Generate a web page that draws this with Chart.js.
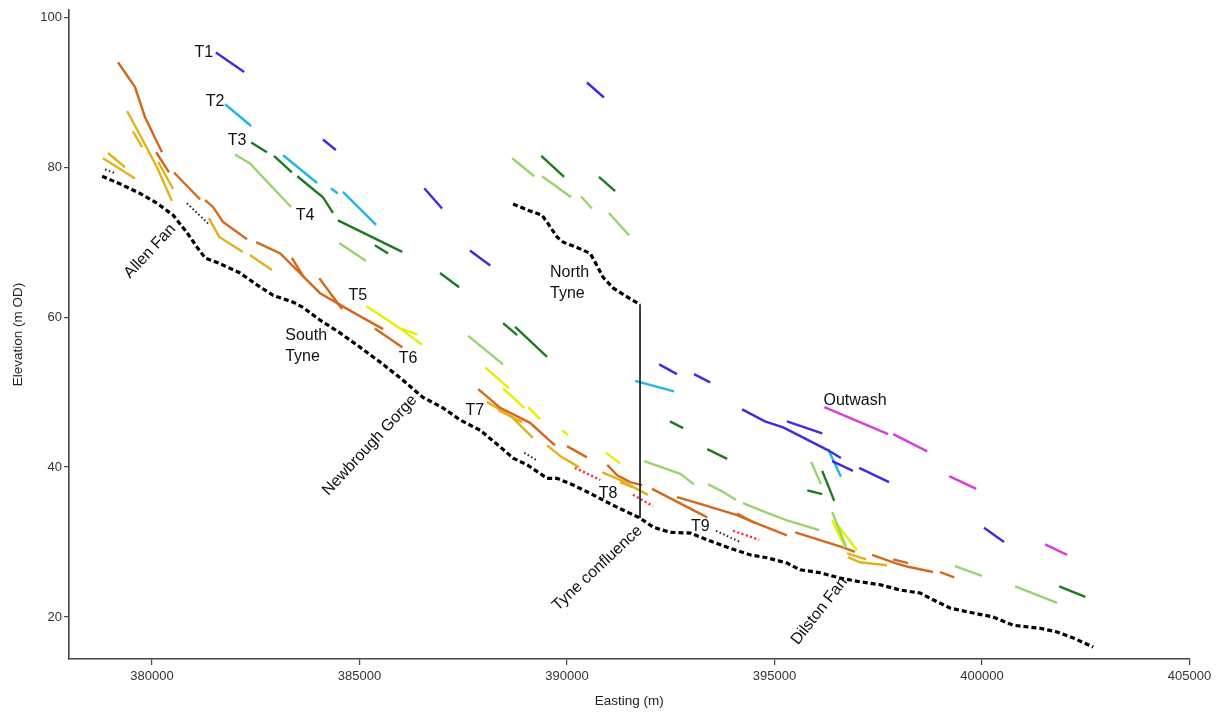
<!DOCTYPE html>
<html>
<head>
<meta charset="utf-8">
<script src="https://cdn.jsdelivr.net/npm/chart.js@4/dist/chart.umd.min.js"></script>
<style>
  html, body { margin: 0; padding: 0; background: #fff; }
  #wrap { width: 1218px; height: 713px; }
</style>
</head>
<body>
<div id="wrap"><canvas id="profile" width="1218" height="713"></canvas></div>
<script>
// terrace fragments, [easting, elevation] per vertex, one list per fragment
const T1 = [
  [[381540, 95.3], [382220, 92.7]],
  [[384120, 83.7], [384430, 82.3]],
  [[386560, 77.2], [386990, 74.5]],
  [[390480, 91.3], [390890, 89.3]],
  [[387660, 68.9], [388150, 66.9]],
  [[392220, 53.7], [392650, 52.4]],
  [[393060, 52.4], [393450, 51.3]],
  [[394220, 47.7], [394770, 46.1], [395210, 45.3], [396270, 42.3], [396600, 41.2]],
  [[395300, 46.1], [396150, 44.5]],
  [[396390, 40.8], [396890, 39.5]],
  [[397040, 39.9], [397760, 38.0]],
  [[400050, 31.9], [400530, 30.0]]
];
const T2 = [
  [[381760, 88.4], [382390, 85.5]],
  [[383160, 81.6], [383980, 77.9]],
  [[384310, 77.2], [384480, 76.5]],
  [[384600, 76.7], [385400, 72.3]],
  [[391640, 51.5], [392580, 50.1]],
  [[396290, 42.4], [396600, 38.7]]
];
const T3 = [
  [[382390, 83.3], [382770, 82.0]],
  [[382940, 81.5], [383370, 79.3]],
  [[383500, 78.8], [384120, 76.0], [384360, 73.9]],
  [[384480, 72.9], [386030, 68.7]],
  [[385370, 69.6], [385690, 68.5]],
  [[389380, 81.5], [389930, 78.7]],
  [[390770, 78.7], [391160, 76.8]],
  [[386940, 65.9], [387400, 64.0]],
  [[388460, 59.2], [388800, 57.6]],
  [[388750, 58.7], [389520, 54.7]],
  [[392480, 46.1], [392800, 45.2]],
  [[393380, 42.4], [393860, 41.1]],
  [[395790, 36.9], [396150, 36.4]],
  [[396150, 39.5], [396440, 35.5]],
  [[401860, 24.1], [402490, 22.7]]
];
const T4 = [
  [[382000, 81.7], [382360, 80.5], [383350, 74.7]],
  [[384510, 69.9], [385160, 67.5]],
  [[388680, 81.2], [389210, 78.8]],
  [[389400, 78.8], [390100, 76.0]],
  [[390340, 76.1], [390600, 74.5]],
  [[391010, 73.9], [391500, 70.9]],
  [[387620, 57.5], [388460, 53.7]],
  [[391860, 40.8], [392730, 39.1], [393060, 37.7]],
  [[393400, 37.7], [393760, 36.7], [394070, 35.6]],
  [[394240, 35.2], [394820, 33.9], [395300, 32.9], [396080, 31.6]],
  [[395880, 40.7], [396120, 37.7]],
  [[396390, 34.0], [396730, 29.3]],
  [[399350, 26.8], [400000, 25.5]],
  [[400800, 24.1], [401810, 21.9]]
];
const T5 = [
  [[385160, 61.5], [385980, 58.5], [386510, 56.3]],
  [[385980, 58.5], [386390, 57.7]],
  [[388030, 53.3], [388600, 50.5]],
  [[388460, 50.5], [388970, 47.9]],
  [[389060, 48.0], [389350, 46.4]],
  [[389880, 44.9], [390030, 44.3]],
  [[390940, 41.9], [391280, 40.5]],
  [[396390, 32.9], [396700, 29.3]],
  [[396460, 32.7], [396990, 28.9]]
];
const T6 = [
  [[379180, 94.0], [379590, 90.7], [379830, 86.7], [380240, 82.0]],
  [[380100, 82.0], [380410, 79.3]],
  [[380530, 79.3], [381160, 75.7]],
  [[381280, 75.6], [381470, 74.7], [381710, 72.7], [382290, 70.4]],
  [[382510, 70.0], [383090, 68.5], [384050, 63.2], [384890, 60.5], [385570, 58.4]],
  [[383370, 67.9], [383660, 65.3]],
  [[384030, 65.2], [384580, 61.1]],
  [[385370, 58.5], [386030, 56.0]],
  [[387860, 50.4], [388390, 47.9], [389110, 45.9], [389710, 42.9]],
  [[390000, 42.8], [390480, 41.3]],
  [[390970, 40.3], [391210, 38.9], [391520, 38.0], [391810, 37.6]],
  [[392050, 37.1], [393380, 33.3]],
  [[392650, 36.0], [393210, 35.1], [394100, 33.6], [394480, 32.7], [395300, 30.9]],
  [[394100, 33.8], [394530, 32.5]],
  [[395500, 31.3], [396650, 29.3], [396940, 28.7]],
  [[397350, 28.3], [397910, 27.2], [398220, 26.7], [398820, 26.0]],
  [[397860, 27.7], [398220, 27.2]],
  [[398990, 26.0], [399330, 25.3]]
];
const T7 = [
  [[379400, 87.5], [379710, 84.3], [380120, 80.0], [380480, 75.5]],
  [[379540, 84.8], [379760, 82.7]],
  [[380150, 80.7], [380510, 77.1]],
  [[378820, 81.2], [379590, 78.5]],
  [[378940, 81.9], [379350, 80.0]],
  [[381370, 73.2], [381620, 70.7], [382190, 68.7]],
  [[382360, 68.3], [382890, 66.3]],
  [[388070, 48.7], [388630, 46.9], [389180, 43.9]],
  [[388340, 47.6], [388920, 46.0]],
  [[389520, 42.9], [389880, 41.3], [390290, 40.0]],
  [[390850, 39.3], [391280, 38.3], [391950, 36.3]],
  [[391280, 38.0], [391590, 37.3]],
  [[396750, 28.5], [397210, 27.7]],
  [[396770, 28.0], [397060, 27.3], [397710, 26.9]]
];
const T8 = [
  [[390190, 39.9], [390800, 38.3]],
  [[391590, 36.3], [392070, 34.8]],
  [[394000, 31.5], [394630, 30.3]]
];
const T9 = [
  [[378870, 79.7], [379110, 79.2]],
  [[380840, 75.2], [381350, 72.5]],
  [[388970, 41.9], [389300, 40.8]],
  [[393590, 31.5], [394170, 30.0]]
];
const OUTWASH = [
  [[396200, 48.0], [397740, 44.4]],
  [[397860, 44.4], [398680, 42.1]],
  [[399210, 38.8], [399860, 37.1]],
  [[401520, 29.7], [402050, 28.3]]
];

// river long profiles
const southTyne = [
  [378800, 78.8], [379300, 77.6], [379710, 76.5], [380120, 75.2], [380510, 73.6],
  [380840, 71.3], [381090, 69.3], [381280, 67.9], [381570, 67.3], [382120, 65.9],
  [382530, 64.3], [382920, 62.9], [383400, 62.0], [383640, 61.3], [384050, 59.6],
  [384530, 57.9], [385010, 56.0], [385500, 54.0], [385980, 51.9], [386530, 49.3],
  [387010, 47.9], [387420, 46.3], [387910, 44.9], [388390, 42.7], [388700, 41.2],
  [389040, 40.3], [389520, 38.5], [389760, 38.5], [390150, 37.6], [390630, 36.3],
  [391110, 34.9], [391760, 33.2], [392070, 32.0], [392480, 31.3], [392970, 31.2],
  [393380, 30.3], [393860, 29.3], [394410, 28.3], [394820, 27.9], [395300, 27.2],
  [395620, 26.3], [396100, 25.9], [396580, 25.2], [397060, 24.7], [397550, 24.3],
  [398030, 23.6], [398510, 23.2], [398820, 22.3], [399230, 21.2], [399640, 20.7],
  [400270, 20.0], [400750, 18.9], [401400, 18.5], [401810, 18.0], [402200, 17.2],
  [402680, 16.0]
];
const northTyne = [
  [388700, 75.1], [389040, 74.3], [389400, 73.6], [389540, 72.5], [389760, 70.7],
  [389910, 70.0], [390240, 69.3], [390560, 68.5], [390720, 66.9], [390870, 65.3],
  [391110, 63.9], [391450, 62.7], [391760, 61.7]
];
const confluence = [[391760, 61.7], [391760, 33.2]];

const xTicks = [380000, 385000, 390000, 395000, 400000, 405000];
const yTicks = [20, 40, 60, 80, 100];

// text annotations (data units)
const notes = [
  { text: 'T1', x: 381250, y: 95.3 },
  { text: 'T2', x: 381520, y: 88.8 },
  { text: 'T3', x: 382050, y: 83.6 },
  { text: 'T4', x: 383690, y: 73.5 },
  { text: 'T5', x: 384960, y: 62.9 },
  { text: 'T6', x: 386170, y: 54.5 },
  { text: 'T7', x: 387780, y: 47.5 },
  { text: 'T8', x: 390990, y: 36.5 },
  { text: 'T9', x: 393210, y: 32.0 },
  { text: 'North', x: 389590, y: 66.0, align: 'left' },
  { text: 'Tyne', x: 389590, y: 63.2, align: 'left' },
  { text: 'South', x: 383210, y: 57.5, align: 'left' },
  { text: 'Tyne', x: 383210, y: 54.8, align: 'left' },
  { text: 'Outwash', x: 396940, y: 48.9 },
  { text: 'Allen Fan', x: 379950, y: 68.8, rot: -47 },
  { text: 'Newbrough Gorge', x: 385250, y: 42.9, rot: -47 },
  { text: 'Tyne confluence', x: 390730, y: 26.5, rot: -43 },
  { text: 'Dilston Fan', x: 396080, y: 20.8, rot: -52 }
];

const FONT = '"Liberation Sans", Arial, Helvetica, sans-serif';

function toPts(list) {
  return list.map(p => ({ x: p[0], y: p[1] }));
}

const datasets = [];
function addSet(groups, style) {
  groups.forEach(seg => {
    datasets.push(Object.assign({
      data: toPts(seg),
      showLine: true,
      pointRadius: 0,
      pointHoverRadius: 0,
      borderWidth: 2.4,
      borderCapStyle: 'butt',
      fill: false,
      tension: 0
    }, style));
  });
}

addSet([southTyne], { borderColor: '#000', borderWidth: 3.2, borderDash: [5, 3] });
addSet([northTyne], { borderColor: '#000', borderWidth: 3.2, borderDash: [5, 3] });
addSet([confluence], { borderColor: '#222', borderWidth: 1 });
addSet(T1, { borderColor: '#3d2be3' });
addSet(T2, { borderColor: '#22b6e6' });
addSet(T3, { borderColor: '#1f7a1f' });
addSet(T4, { borderColor: '#9bd46e' });
addSet(T5, { borderColor: '#e4f000' });
addSet(T6, { borderColor: '#d4691d' });
addSet(T7, { borderColor: '#e2b11d' });
addSet(T8, { borderColor: '#ff2626', borderDash: [2, 2.5] });
addSet(T9, { borderColor: '#222', borderWidth: 2, borderDash: [1.5, 2.5] });
addSet(OUTWASH, { borderColor: '#d93ddc' });

const notesPlugin = {
  id: 'notes',
  afterDatasetsDraw(chart) {
    const { ctx, scales: { x, y } } = chart;
    ctx.save();
    ctx.fillStyle = '#111';
    ctx.font = '16px ' + FONT;
    ctx.textBaseline = 'middle';
    notes.forEach(n => {
      ctx.save();
      ctx.translate(x.getPixelForValue(n.x), y.getPixelForValue(n.y));
      if (n.rot) ctx.rotate(n.rot * Math.PI / 180);
      ctx.textAlign = n.align || 'center';
      ctx.fillText(n.text, 0, 0);
      ctx.restore();
    });
    ctx.restore();
  }
};

new Chart(document.getElementById('profile'), {
  type: 'scatter',
  data: { datasets: datasets },
  plugins: [notesPlugin],
  options: {
    responsive: false,
    animation: false,
    devicePixelRatio: 1,
    layout: { padding: { left: 0, top: 9.5, right: 28.5, bottom: 0 } },
    plugins: { legend: { display: false }, tooltip: { enabled: false } },
    scales: {
      x: {
        type: 'linear',
        min: 378000,
        max: 405000,
        afterBuildTicks: s => { s.ticks = xTicks.map(v => ({ value: v })); },
        afterFit: s => { s.height = 54; },
        ticks: { callback: v => String(v), color: '#333', font: { family: FONT, size: 13 }, padding: 4, maxRotation: 0 },
        grid: { drawOnChartArea: false, drawTicks: true, tickLength: 6, color: '#444', lineWidth: 1.2 },
        border: { color: '#444', width: 1.6 },
        title: { display: true, text: 'Easting (m)', color: '#222', font: { family: FONT, size: 13.5 }, padding: { top: 2, bottom: 4 } }
      },
      y: {
        type: 'linear',
        min: 14.4,
        max: 101,
        afterBuildTicks: s => { s.ticks = yTicks.map(v => ({ value: v })); },
        afterFit: s => { s.width = 69; },
        ticks: { color: '#333', font: { family: FONT, size: 13 }, padding: 2 },
        grid: { drawOnChartArea: false, drawTicks: true, tickLength: 5, color: '#444', lineWidth: 1.2 },
        border: { color: '#444', width: 1.6 },
        title: { display: true, text: 'Elevation (m OD)', color: '#222', font: { family: FONT, size: 13.5 }, padding: { top: 10, bottom: 2 } }
      }
    }
  }
});
</script>
</body>
</html>
